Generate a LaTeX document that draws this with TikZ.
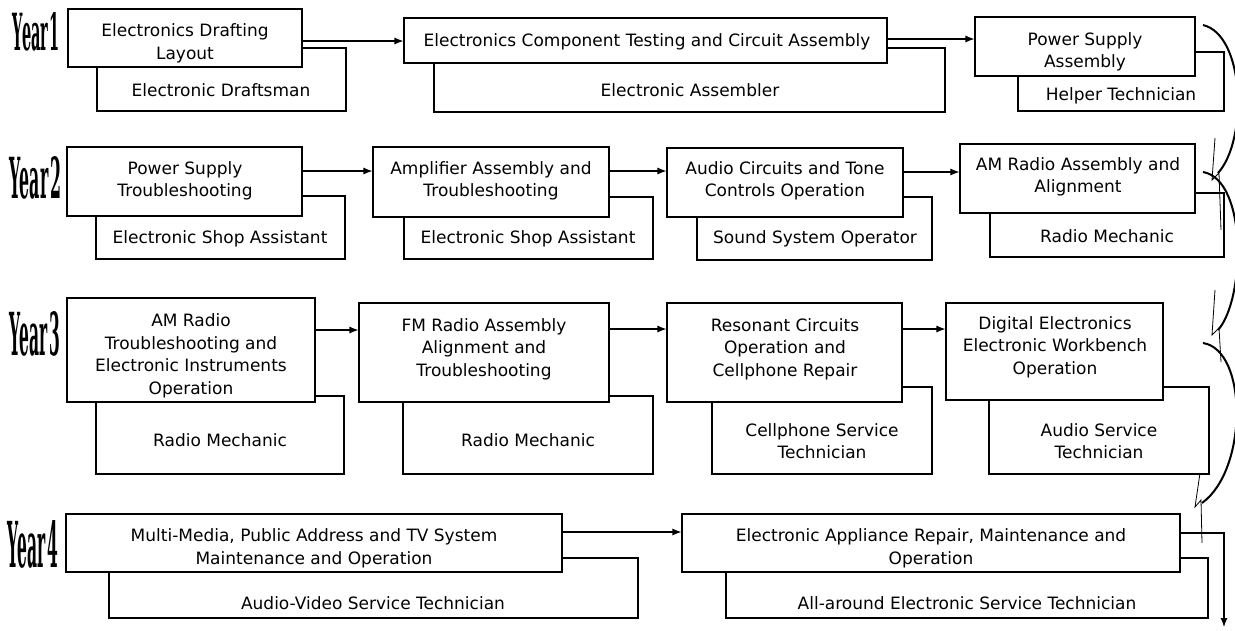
\documentclass[tikz,border=0pt]{standalone}
\usepackage{fontspec}
\setmainfont{DejaVu Sans}
\newfontfamily\yearfont{DejaVu Serif}
\usetikzlibrary{arrows.meta}
\newcommand\placebox[6]{%
  \pgfmathsetmacro\bw{#5-#3}\pgfmathsetmacro\bh{#6-#4}%
  \pgfmathsetmacro\bx{(#3+#5)/2}\pgfmathsetmacro\by{(#4+#6)/2}%
  \node[#1,minimum width=\bw pt,minimum height=\bh pt] (#2) at (\bx,\by) {};}
\begin{document}
\begin{tikzpicture}[x=1pt,y=-1pt,
  tbox/.style={draw,fill=white,line width=1.1pt,inner sep=0pt},
  jbox/.style={draw,fill=white,line width=1.1pt,inner sep=0pt},
  txt/.style={inner sep=0pt,align=center,font=\fontsize{17}{22.5}\selectfont},
  arr/.style={line width=1.1pt,-{Latex[length=9pt,width=7pt]}},
  curv/.style={line width=2pt},
  zig/.style={line width=0.8pt},
  yr/.style={inner sep=0pt,font=\yearfont\bfseries}
]
\fill[white] (0,0) rectangle (1235,630);
\useasboundingbox (0,0) rectangle (1235,630);

% Year labels
\node[yr] (y1) at (36.5,31.5) {\resizebox{47pt}{38pt}{Year\kern1pt1}};
\node[yr] (y2) at (35.5,177.5) {\resizebox{51pt}{42pt}{Year\kern1pt2}};
\node[yr] (y3) at (35,333.5) {\resizebox{50pt}{44pt}{Year\kern1pt3}};
\node[yr] (y4) at (33,544) {\resizebox{50pt}{47pt}{Year\kern1pt4}};

% ---------- Row 1 ----------
\placebox{jbox}{jA}{97}{48}{346}{111}
\placebox{jbox}{jB}{434}{48}{945}{112}
\placebox{jbox}{jC}{1018}{52}{1224}{111}
\placebox{tbox}{tA}{68}{9}{302}{67}
\placebox{tbox}{tB}{404}{18}{887}{63}
\placebox{tbox}{tC}{975}{17}{1195}{76}
\node[txt] (tAt) at (185,43.5) {Electronics Drafting\\Layout};
\node[txt] (tBt) at (647,42) {Electronics Component Testing and Circuit Assembly};
\node[txt] (tCt) at (1085,52) {Power Supply\\Assembly};
\node[txt] (jAt) at (221,90) {Electronic Draftsman};
\node[txt] (jBt) at (690,90) {Electronic Assembler};
\node[txt] (jCt) at (1121,96) {Helper Technician};
\draw[arr] (tA.east |- 0,41) -- (tB.west |- 0,41);
\draw[arr] (tB.east |- 0,39) -- (tC.west |- 0,39);

% ---------- Row 2 ----------
\placebox{jbox}{j21}{96}{196}{345}{259}
\placebox{jbox}{j22}{404}{197}{653}{259}
\placebox{jbox}{j23}{697}{197}{932}{260}
\placebox{jbox}{j24}{990}{193}{1224}{257}
\placebox{tbox}{t21}{67}{147}{302}{216}
\placebox{tbox}{t22}{373}{147}{609}{217}
\placebox{tbox}{t23}{667}{148}{903}{217}
\placebox{tbox}{t24}{960}{144}{1195}{213}
\node[txt] (t21t) at (185,181) {Power Supply\\Troubleshooting};
\node[txt] (t22t) at (491,181) {Amplifier Assembly and\\Troubleshooting};
\node[txt] (t23t) at (785,181) {Audio Circuits and Tone\\Controls Operation};
\node[txt] (t24t) at (1078,177) {AM Radio Assembly and\\Alignment};
\node[txt] (j21t) at (220,239) {Electronic Shop Assistant};
\node[txt] (j22t) at (528,239) {Electronic Shop Assistant};
\node[txt] (j23t) at (815,239) {Sound System Operator};
\node[txt] (j24t) at (1107,236) {Radio Mechanic};
\draw[arr] (t21.east |- 0,171) -- (t22.west |- 0,171);
\draw[arr] (t22.east |- 0,171) -- (t23.west |- 0,171);
\draw[arr] (t23.east |- 0,172) -- (t24.west |- 0,172);

% ---------- Row 3 ----------
\placebox{jbox}{j31}{96}{396}{344}{474}
\placebox{jbox}{j32}{403}{396}{653}{474}
\placebox{jbox}{j33}{712}{387}{932}{474}
\placebox{jbox}{j34}{989}{387}{1209}{474}
\placebox{tbox}{t31}{67}{298}{315}{402}
\placebox{tbox}{t32}{359}{303}{609}{402}
\placebox{tbox}{t33}{667}{303}{902}{402}
\placebox{tbox}{t34}{946}{303}{1163}{400}
\node[txt] (t31t) at (191,356) {AM Radio\\Troubleshooting and\\Electronic Instruments\\Operation};
\node[txt] (t32t) at (484,349) {FM Radio Assembly\\Alignment and\\Troubleshooting};
\node[txt] (t33t) at (785,349) {Resonant Circuits\\Operation and\\Cellphone Repair};
\node[txt] (t34t) at (1055,347) {Digital Electronics\\Electronic Workbench\\Operation};
\node[txt] (j31t) at (220,440) {Radio Mechanic};
\node[txt] (j32t) at (528,440) {Radio Mechanic};
\node[txt] (j33t) at (822,441) {Cellphone Service\\Technician};
\node[txt] (j34t) at (1099,441) {Audio Service\\Technician};
\draw[arr] (t31.east |- 0,330) -- (t32.west |- 0,330);
\draw[arr] (t32.east |- 0,329) -- (t33.west |- 0,329);
\draw[arr] (t33.east |- 0,329) -- (t34.west |- 0,329);

% ---------- Row 4 ----------
\placebox{jbox}{j41}{109}{558}{638}{618}
\placebox{jbox}{j42}{726}{558}{1208}{618}
\placebox{tbox}{t41}{66}{514}{562}{572}
\placebox{tbox}{t42}{682}{514}{1180}{572}
\node[txt] (t41t) at (314,548.5) {Multi-Media, Public Address and TV System\\Maintenance and Operation};
\node[txt] (t42t) at (931,548.5) {Electronic Appliance Repair, Maintenance and\\Operation};
\node[txt] (j41t) at (373,603) {Audio-Video Service Technician};
\node[txt] (j42t) at (967,603) {All-around Electronic Service Technician};
\draw[arr] (t41.east |- 0,532) -- (t42.west |- 0,532);
\coordinate (endpt) at (1224,627);
\draw[arr] (t42.east |- 0,533) -| (endpt);

% ---------- row-to-row curves ----------
\draw[curv] (1203,25) .. controls (1245,35) and (1248,140) .. (1218,173);
\draw[curv] (1203,172) .. controls (1248,180) and (1245,300) .. (1218,330);
\draw[curv] (1203,343) .. controls (1248,350) and (1248,470) .. (1202,503);
\draw[zig] (1215,138) -- (1212,180) -- (1219,173) -- (1221,230);
\draw[zig] (1215,290) -- (1212,335) -- (1219,328) -- (1221,362);
\draw[zig] (1200,473) -- (1195,507) -- (1201,500) -- (1202,543);
\end{tikzpicture}
\end{document}
